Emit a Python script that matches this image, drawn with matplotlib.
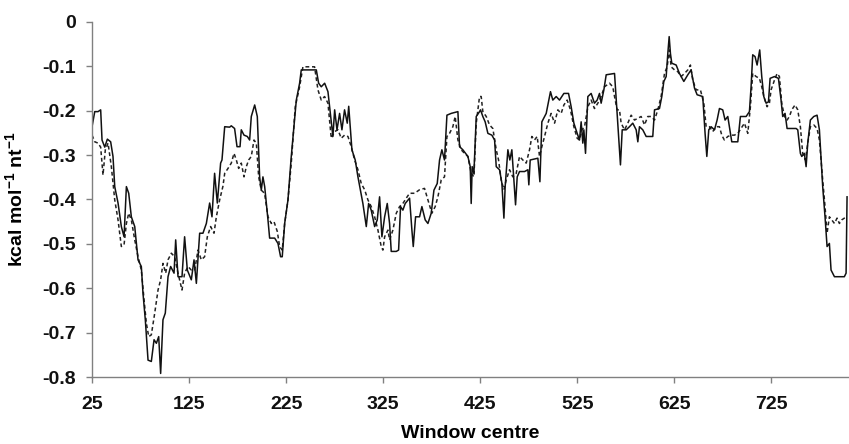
import matplotlib
matplotlib.use('Agg')
import matplotlib.pyplot as plt

plt.rcParams['font.family'] = ['Liberation Sans', 'DejaVu Sans']
plt.rcParams['axes.unicode_minus'] = False
plt.rcParams['mathtext.fontset'] = 'custom'
plt.rcParams['mathtext.rm'] = 'Liberation Sans:bold'
plt.rcParams['mathtext.bf'] = 'Liberation Sans:bold'

# (window centre, energy)
solid_pts = [
  (25.0, -0.236), (27.8, -0.202), (31.2, -0.202), (33.9, -0.198), (35.3, -0.266),
  (38.1, -0.282), (40.8, -0.264), (44.2, -0.270), (46.6, -0.303), (48.4, -0.371),
  (51.8, -0.408), (55.2, -0.461), (58.0, -0.484), (60.4, -0.371), (62.8, -0.386),
  (65.5, -0.439), (69.0, -0.461), (72.4, -0.536), (75.8, -0.551), (77.5, -0.611),
  (79.9, -0.671), (82.7, -0.762), (86.1, -0.765), (88.9, -0.716), (91.3, -0.724),
  (93.7, -0.709), (95.7, -0.792), (98.1, -0.671), (100.5, -0.656), (103.3, -0.574),
  (106.0, -0.551), (109.5, -0.566), (111.2, -0.491), (113.6, -0.574), (117.7, -0.574),
  (120.4, -0.484), (123.2, -0.559), (127.3, -0.581), (130.1, -0.536), (132.5, -0.589),
  (135.9, -0.476), (139.3, -0.476), (142.8, -0.454), (146.2, -0.408), (148.6, -0.439),
  (151.3, -0.341), (154.1, -0.408), (157.5, -0.318), (158.9, -0.311), (161.7, -0.236),
  (166.8, -0.237), (168.5, -0.234), (171.9, -0.240), (174.4, -0.281), (177.5, -0.281),
  (178.8, -0.243), (181.6, -0.255), (185.0, -0.258), (187.4, -0.266), (189.1, -0.213),
  (192.6, -0.187), (195.3, -0.213), (197.7, -0.349), (199.4, -0.379), (201.1, -0.349),
  (202.9, -0.371), (206.3, -0.446), (208.0, -0.487), (213.2, -0.487), (216.6, -0.499),
  (219.3, -0.529), (221.0, -0.529), (223.5, -0.454), (226.9, -0.401), (230.3, -0.303),
  (235.5, -0.176), (238.9, -0.138), (240.6, -0.108), (256.1, -0.108), (258.5, -0.138),
  (261.2, -0.146), (264.7, -0.138), (268.1, -0.157), (273.2, -0.258), (275.0, -0.198),
  (277.4, -0.243), (280.1, -0.206), (282.5, -0.243), (285.2, -0.198), (288.0, -0.228),
  (289.5, -0.190), (292.8, -0.288), (296.2, -0.311), (299.0, -0.349), (304.1, -0.409),
  (307.6, -0.461), (310.0, -0.409), (312.7, -0.424), (316.2, -0.461), (318.9, -0.446),
  (321.3, -0.394), (323.7, -0.484), (326.5, -0.439), (329.2, -0.409), (331.6, -0.454),
  (333.3, -0.517), (338.5, -0.517), (340.9, -0.514), (342.9, -0.416), (345.3, -0.424),
  (347.7, -0.409), (352.2, -0.397), (354.6, -0.469), (356.0, -0.506), (358.4, -0.439),
  (362.5, -0.439), (364.9, -0.416), (368.3, -0.446), (371.1, -0.454), (374.5, -0.431),
  (377.3, -0.379), (380.7, -0.364), (383.1, -0.311), (385.5, -0.288), (388.2, -0.311),
  (390.7, -0.210), (395.1, -0.206), (402.0, -0.202), (403.7, -0.281), (407.1, -0.288),
  (412.3, -0.303), (414.7, -0.326), (415.7, -0.409), (416.7, -0.326), (418.5, -0.341),
  (420.9, -0.213), (424.3, -0.202), (425.3, -0.198), (427.7, -0.213), (430.1, -0.225),
  (432.9, -0.251), (437.0, -0.255), (439.8, -0.266), (441.5, -0.326), (444.9, -0.333),
  (447.3, -0.363), (449.4, -0.442), (450.7, -0.371), (453.5, -0.288), (455.5, -0.311),
  (457.6, -0.288), (459.7, -0.356), (461.4, -0.412), (463.1, -0.349), (465.5, -0.337),
  (470.7, -0.337), (474.1, -0.333), (475.1, -0.367), (476.5, -0.311), (484.4, -0.307),
  (486.5, -0.360), (488.5, -0.225), (493.0, -0.206), (497.4, -0.157), (499.8, -0.176),
  (503.3, -0.168), (506.7, -0.176), (511.2, -0.161), (516.0, -0.161), (518.7, -0.191),
  (521.5, -0.228), (524.9, -0.251), (527.3, -0.266), (529.0, -0.225), (530.7, -0.273),
  (531.8, -0.243), (533.5, -0.296), (535.9, -0.168), (539.3, -0.161), (542.7, -0.183),
  (545.5, -0.176), (547.9, -0.161), (549.6, -0.183), (552.4, -0.153), (554.8, -0.119),
  (563.4, -0.116), (566.1, -0.206), (567.8, -0.266), (569.5, -0.322), (571.3, -0.243),
  (575.4, -0.243), (578.8, -0.236), (582.2, -0.228), (585.7, -0.243), (587.4, -0.270),
  (589.1, -0.236), (592.5, -0.243), (596.0, -0.258), (602.8, -0.258), (604.6, -0.198),
  (609.7, -0.195), (612.1, -0.168), (614.2, -0.134), (616.6, -0.123), (618.3, -0.071),
  (619.7, -0.033), (621.0, -0.071), (622.4, -0.093), (626.9, -0.097), (630.3, -0.116),
  (634.8, -0.134), (638.9, -0.119), (642.3, -0.108), (645.8, -0.149), (648.5, -0.164),
  (654.3, -0.168), (656.7, -0.251), (658.5, -0.303), (660.5, -0.243), (662.9, -0.236),
  (666.4, -0.243), (669.1, -0.221), (671.5, -0.195), (674.9, -0.198), (677.3, -0.221),
  (680.1, -0.213), (684.2, -0.270), (690.4, -0.270), (693.1, -0.213), (699.0, -0.213),
  (702.4, -0.202), (704.1, -0.146), (705.8, -0.074), (708.2, -0.078), (710.3, -0.097),
  (713.0, -0.063), (715.1, -0.123), (717.2, -0.168), (719.6, -0.183), (722.0, -0.180),
  (723.7, -0.127), (728.2, -0.123), (732.3, -0.127), (735.0, -0.176), (736.7, -0.213),
  (739.1, -0.206), (741.2, -0.240), (750.5, -0.240), (752.2, -0.243), (754.9, -0.296),
  (756.3, -0.303), (759.0, -0.296), (760.8, -0.326), (762.5, -0.273), (765.2, -0.221),
  (768.7, -0.213), (772.1, -0.210), (774.5, -0.243), (777.9, -0.371), (780.3, -0.439),
  (782.4, -0.506), (784.8, -0.499), (786.5, -0.559), (790.0, -0.574), (800.2, -0.574),
  (802.0, -0.566), (803.0, -0.394),
]

dashed_pts = [
  (25.0, -0.255), (27.8, -0.270), (31.2, -0.273), (33.9, -0.282), (36.3, -0.345),
  (38.7, -0.288), (41.5, -0.273), (44.9, -0.326), (48.4, -0.401), (51.8, -0.446),
  (55.2, -0.506), (58.0, -0.502), (60.4, -0.454), (62.8, -0.431), (65.5, -0.446),
  (69.0, -0.491), (72.4, -0.529), (75.8, -0.559), (78.6, -0.626), (81.0, -0.679),
  (83.4, -0.709), (86.1, -0.705), (89.6, -0.656), (93.0, -0.604), (95.7, -0.581),
  (98.1, -0.544), (100.9, -0.566), (103.3, -0.536), (106.7, -0.521), (110.1, -0.529),
  (113.6, -0.566), (117.7, -0.604), (120.4, -0.566), (123.9, -0.551), (127.3, -0.559),
  (130.8, -0.559), (134.2, -0.514), (137.6, -0.536), (141.0, -0.529), (143.8, -0.484),
  (147.2, -0.461), (150.7, -0.476), (153.1, -0.439), (156.5, -0.401), (159.9, -0.370),
  (161.7, -0.341), (165.1, -0.330), (168.5, -0.318), (171.3, -0.296), (173.7, -0.311),
  (176.1, -0.330), (178.8, -0.318), (181.6, -0.349), (184.0, -0.326), (186.4, -0.311),
  (189.1, -0.303), (191.9, -0.266), (194.3, -0.273), (196.7, -0.349), (199.4, -0.379),
  (202.8, -0.386), (206.3, -0.439), (209.7, -0.454), (212.5, -0.450), (215.9, -0.472),
  (218.3, -0.506), (221.0, -0.514), (223.5, -0.454), (226.9, -0.401), (230.3, -0.318),
  (234.4, -0.191), (238.9, -0.146), (242.3, -0.101), (254.3, -0.101), (257.8, -0.153),
  (261.2, -0.176), (264.6, -0.168), (268.1, -0.183), (271.5, -0.262), (274.9, -0.247),
  (278.4, -0.243), (281.8, -0.262), (285.2, -0.255), (288.7, -0.258), (292.1, -0.281),
  (295.6, -0.311), (299.0, -0.333), (302.4, -0.364), (305.9, -0.378), (309.3, -0.401),
  (312.7, -0.416), (316.2, -0.439), (319.6, -0.469), (323.0, -0.506), (324.7, -0.514),
  (326.5, -0.484), (329.9, -0.469), (331.6, -0.491), (335.0, -0.469), (338.5, -0.431),
  (341.9, -0.416), (345.3, -0.409), (348.8, -0.397), (352.2, -0.386), (357.4, -0.386),
  (362.5, -0.378), (367.6, -0.375), (371.1, -0.401), (375.2, -0.431), (378.6, -0.416),
  (381.4, -0.394), (384.8, -0.356), (388.2, -0.349), (390.7, -0.258), (393.4, -0.251),
  (396.8, -0.236), (399.2, -0.213), (402.0, -0.266), (405.4, -0.288), (408.8, -0.296),
  (412.3, -0.303), (415.7, -0.341), (418.5, -0.349), (420.9, -0.228), (424.3, -0.168),
  (426.0, -0.168), (427.7, -0.202), (431.2, -0.213), (434.6, -0.232), (438.0, -0.240),
  (441.5, -0.288), (443.9, -0.311), (446.6, -0.356), (449.4, -0.378), (451.8, -0.356),
  (455.2, -0.333), (458.6, -0.349), (462.1, -0.341), (465.5, -0.303), (468.9, -0.311),
  (472.4, -0.318), (475.8, -0.288), (478.2, -0.258), (480.9, -0.266), (483.7, -0.258),
  (486.1, -0.303), (488.5, -0.281), (491.3, -0.258), (494.7, -0.228), (498.1, -0.206),
  (501.6, -0.228), (505.0, -0.198), (508.4, -0.206), (511.2, -0.187), (514.6, -0.176),
  (518.0, -0.198), (521.5, -0.236), (524.9, -0.262), (527.3, -0.266), (529.7, -0.243),
  (532.5, -0.236), (535.9, -0.191), (539.3, -0.176), (542.7, -0.195), (546.2, -0.183),
  (549.6, -0.168), (553.0, -0.146), (558.2, -0.138), (561.6, -0.146), (563.4, -0.168),
  (566.1, -0.198), (568.5, -0.198), (570.2, -0.228), (573.7, -0.243), (577.1, -0.228),
  (580.5, -0.210), (584.0, -0.221), (587.4, -0.217), (590.8, -0.213), (594.3, -0.232),
  (597.7, -0.213), (601.1, -0.213), (604.6, -0.221), (608.0, -0.198), (611.4, -0.168),
  (614.9, -0.116), (617.6, -0.101), (620.0, -0.063), (621.7, -0.101), (625.2, -0.108),
  (628.6, -0.112), (632.0, -0.123), (635.5, -0.116), (638.9, -0.108), (641.6, -0.097),
  (644.0, -0.131), (647.5, -0.153), (651.9, -0.153), (655.4, -0.183), (657.8, -0.236),
  (661.2, -0.236), (664.6, -0.247), (668.1, -0.236), (671.5, -0.236), (673.9, -0.255),
  (676.6, -0.266), (680.1, -0.258), (683.5, -0.255), (686.9, -0.255), (690.4, -0.251),
  (697.3, -0.228), (700.7, -0.251), (703.4, -0.191), (705.8, -0.116), (709.3, -0.123),
  (712.7, -0.127), (715.1, -0.146), (717.2, -0.168), (720.6, -0.191), (723.0, -0.183),
  (724.7, -0.153), (728.2, -0.131), (730.9, -0.116), (733.3, -0.123), (735.7, -0.183),
  (738.5, -0.213), (741.2, -0.221), (743.6, -0.213), (746.0, -0.198), (749.4, -0.187),
  (752.2, -0.198), (754.9, -0.236), (757.3, -0.296), (760.1, -0.311), (762.5, -0.273),
  (765.2, -0.236), (768.7, -0.232), (772.1, -0.240), (774.5, -0.266), (777.9, -0.356),
  (780.3, -0.416), (782.4, -0.476), (784.8, -0.439), (787.2, -0.446), (790.0, -0.454),
  (792.7, -0.442), (795.1, -0.454), (797.5, -0.446), (800.2, -0.442), (803.0, -0.439),
]

x_ticks = [25, 125, 225, 325, 425, 525, 625, 725]
y_ticks = [0, -0.1, -0.2, -0.3, -0.4, -0.5, -0.6, -0.7, -0.8]
y_tick_labels = ['0', '-0.1', '-0.2', '-0.3', '-0.4', '-0.5', '-0.6', '-0.7', '-0.8']

fig = plt.figure(figsize=(8.49, 4.44), dpi=100)
ax = fig.add_axes([0.1084, 0.1509, 0.8916, 0.7996])

sx, sy = zip(*solid_pts)
dx, dy = zip(*dashed_pts)
ax.plot(dx, dy, color='#222222', lw=1.1, ls=(0, (2.5, 1.8)))
ax.plot(sx, sy, color='#111111', lw=1.1)

ax.set_xlim(25, 805)
ax.set_ylim(-0.8, 0)
ax.set_xticks(x_ticks)
ax.set_yticks(y_ticks)
ax.set_yticklabels(y_tick_labels)

for s in ['top', 'right']:
  ax.spines[s].set_visible(False)
for s in ['left', 'bottom']:
  ax.spines[s].set_color('#808080')
  ax.spines[s].set_linewidth(1.0)

ax.tick_params(axis='both', direction='out', length=4.5, width=1.0, color='#808080',
               labelsize=14, labelcolor='#111111')
ax.tick_params(axis='y', pad=7)
ax.tick_params(axis='x', pad=9)
for lab in ax.get_xticklabels() + ax.get_yticklabels():
  lab.set_fontweight('bold')

ax.set_ylabel(r'kcal mol$^{-1}$ nt$^{-1}$', fontsize=14, fontweight='bold', labelpad=11)
ax.set_xlabel('Window centre', fontsize=14, fontweight='bold', labelpad=9)

fig.savefig('out.png', dpi=100)
